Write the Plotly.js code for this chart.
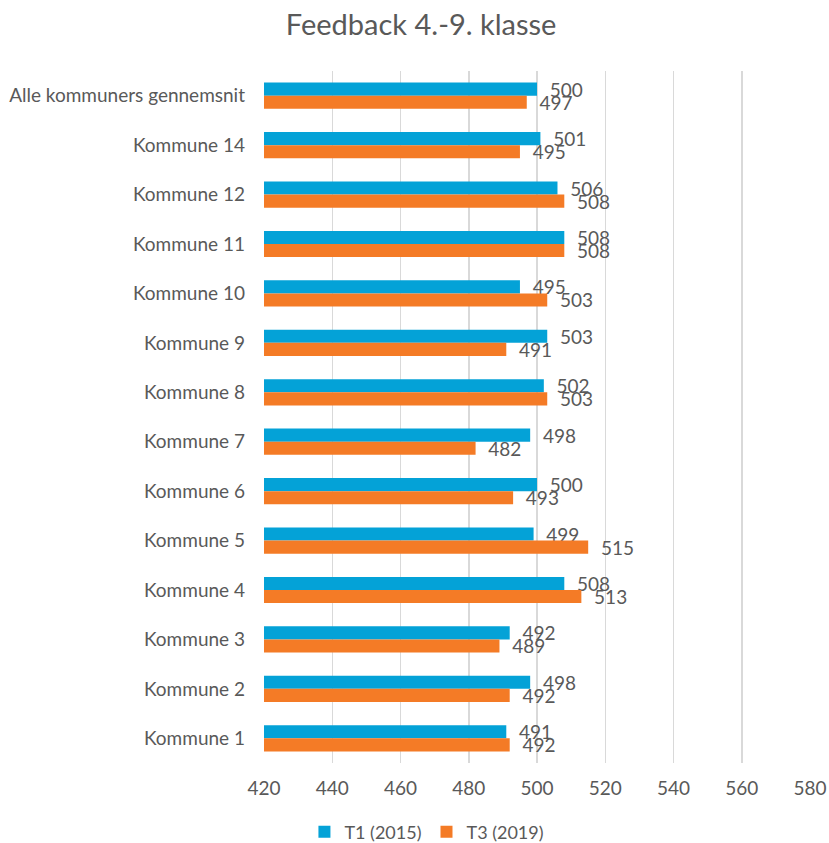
<!DOCTYPE html>
<html>
<head>
<meta charset="utf-8">
<script src="https://cdn.plot.ly/plotly-3.0.1.min.js"></script>
<style>html,body{margin:0;padding:0;background:#fff;}#chart{width:829px;height:843px;}</style>
</head>
<body>
<div id="chart"></div>
<script>
const categories = ["Alle kommuners gennemsnit","Kommune 14","Kommune 12","Kommune 11","Kommune 10","Kommune 9","Kommune 8","Kommune 7","Kommune 6","Kommune 5","Kommune 4","Kommune 3","Kommune 2","Kommune 1"];
const t1Values = [500,501,506,508,495,503,502,498,500,499,508,492,498,491];
const t3Values = [497,495,508,508,503,491,503,482,493,515,513,489,492,492];
const seriesNames = ["T1 (2015)","T3 (2019)"];
const xTicks = [420,440,460,480,500,520,540,560,580];

const font = "Lato, 'Open Sans', sans-serif";
const grey = "#595959";

function mk(name, vals, color){
  return {
    type: "bar", orientation: "h", name: name,
    y: categories, x: vals,
    marker: {color: color},
    text: vals.map(v => "\u00a0\u00a0" + v), textposition: "outside",
    textfont: {family: font, size: 19, color: grey},
    constraintext: "none", cliponaxis: false,
    hoverinfo: "x+y"
  };
}

const data = [mk(seriesNames[0], t1Values, "#04a2d7"), mk(seriesNames[1], t3Values, "#f47b26")];

const layout = {
  width: 829, height: 843,
  margin: {l: 264, r: 19, t: 71, b: 80},
  paper_bgcolor: "#fff", plot_bgcolor: "#fff",
  font: {family: font, color: grey, size: 19},
  title: {text: "Feedback 4.-9. klasse", x: 0.508, xanchor: "center", y: 0.970, yanchor: "middle", font: {family: font, size: 29, color: grey}},
  barmode: "group", bargap: 0.47, bargroupgap: 0,
  xaxis: {range: [420, 580], tickvals: xTicks, ticktext: xTicks.map(String), showgrid: true, gridcolor: "#d9d9d9", gridwidth: 1.5, zeroline: false, showline: false, ticks: "", ticklabelstandoff: 12, tickfont: {size: 19, color: grey}, fixedrange: true},
  yaxis: {type: "category", autorange: "reversed", showgrid: false, showline: false, ticks: "", ticklabelstandoff: 18, tickfont: {size: 19, color: grey}, automargin: false},
  showlegend: true,
  legend: {orientation: "h", xref: "container", x: 0.515, xanchor: "center", yref: "container", y: 0.013, yanchor: "middle", font: {size: 18, color: grey}, itemwidth: 30, traceorder: "normal"}
};

Plotly.newPlot("chart", data, layout, {displayModeBar: false, staticPlot: true});
</script>
</body>
</html>
